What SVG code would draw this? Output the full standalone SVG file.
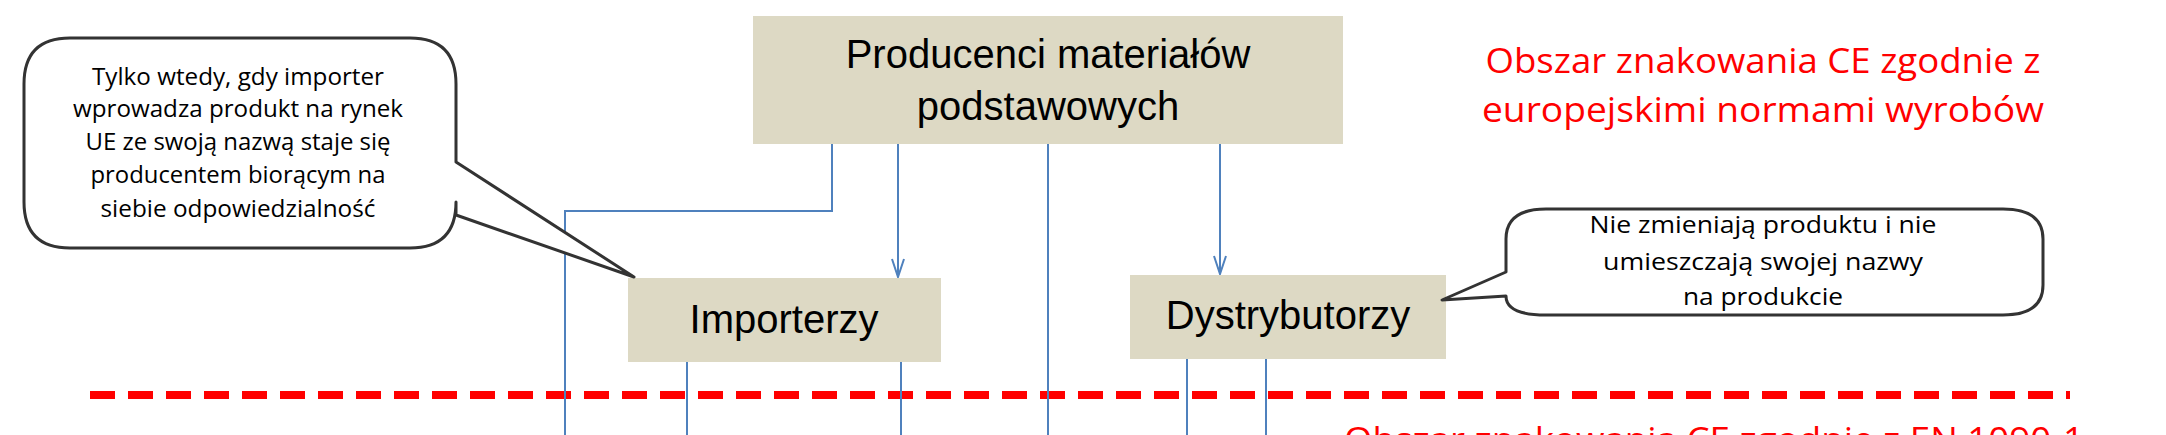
<svg xmlns="http://www.w3.org/2000/svg" width="2166" height="435" viewBox="0 0 2166 435">
<style>
.box{fill:#ddd9c4}
.bt{font-family:"Liberation Sans",Arial,sans-serif;font-size:40px;fill:#000;text-anchor:middle}
.ct{font-family:"Open Sans","Liberation Sans",sans-serif;font-size:23px;fill:#000;text-anchor:middle}
.rt{font-family:"Open Sans","Liberation Sans",sans-serif;font-size:34px;fill:#ff0000;text-anchor:middle}
.con{fill:none;stroke:#4f81bd;stroke-width:2}
.call{fill:#fff;stroke:#333;stroke-width:3;stroke-linejoin:round}
</style>
<defs>
<marker id="arr" markerWidth="20" markerHeight="14" refX="19" refY="7" orient="auto" markerUnits="userSpaceOnUse" viewBox="0 0 20 14">
<path d="M1,1 L19,7 L1,13" fill="none" stroke="#4f81bd" stroke-width="2"/>
</marker>
</defs>
<rect width="2166" height="435" fill="#fff"/>
<line x1="90" y1="395" x2="2070" y2="395" stroke="#ff0000" stroke-width="8" stroke-dasharray="25 13"/>
<g id="connectors">
<path class="con" d="M832,144 V211 H565 V435"/>
<path class="con" d="M898,144 V277" marker-end="url(#arr)"/>
<path class="con" d="M1048,144 V435"/>
<path class="con" d="M1220,144 V274" marker-end="url(#arr)"/>
<path class="con" d="M687,362 V435"/>
<path class="con" d="M901,362 V435"/>
<path class="con" d="M1187,359 V435"/>
<path class="con" d="M1266,359 V435"/>
</g>
<g id="producenci">
<rect class="box" x="753" y="16" width="590" height="128"/>
<text class="bt" x="1048" y="68">Producenci materiałów</text>
<text class="bt" x="1048" y="120">podstawowych</text>
</g>
<g id="importerzy">
<rect class="box" x="628" y="278" width="313" height="84"/>
<text class="bt" x="784" y="333">Importerzy</text>
</g>
<g id="dystrybutorzy">
<rect class="box" x="1130" y="275" width="316" height="84"/>
<text class="bt" x="1288" y="329">Dystrybutorzy</text>
</g>
<g id="callout-left">
<path class="call" d="M70,38 H410 Q456,38 456,84 V162 L634,277 L456,215 V202 Q456,248 410,248 H70 Q24,248 24,202 V84 Q24,38 70,38 Z"/>
<text class="ct" x="238" y="85" textLength="292" lengthAdjust="spacingAndGlyphs">Tylko wtedy, gdy importer</text>
<text class="ct" x="238" y="117" textLength="330" lengthAdjust="spacingAndGlyphs">wprowadza produkt na rynek</text>
<text class="ct" x="238" y="150" textLength="305" lengthAdjust="spacingAndGlyphs">UE ze swoją nazwą staje się</text>
<text class="ct" x="238" y="183" textLength="295" lengthAdjust="spacingAndGlyphs">producentem biorącym na</text>
<text class="ct" x="238" y="217" textLength="275" lengthAdjust="spacingAndGlyphs">siebie odpowiedzialność</text>
</g>
<g id="callout-right">
<path class="call" d="M1546,209 H2003 Q2043,209 2043,239 V285 Q2043,315 2003,315 H1546 Q1506,315 1506,296 L1442,300 L1506,272 V239 Q1506,209 1546,209 Z"/>
<text class="ct" x="1763" y="233" textLength="347" lengthAdjust="spacingAndGlyphs">Nie zmieniają produktu i nie</text>
<text class="ct" x="1763" y="270" textLength="320" lengthAdjust="spacingAndGlyphs">umieszczają swojej nazwy</text>
<text class="ct" x="1763" y="305" textLength="160" lengthAdjust="spacingAndGlyphs">na produkcie</text>
</g>
<g id="labels">
<text class="rt" x="1763" y="73" textLength="555" lengthAdjust="spacingAndGlyphs">Obszar znakowania CE zgodnie z</text>
<text class="rt" x="1763" y="122" textLength="562" lengthAdjust="spacingAndGlyphs">europejskimi normami wyrobów</text>
<text class="rt" x="1714" y="452" textLength="740" lengthAdjust="spacingAndGlyphs">Obszar znakowania CE zgodnie z EN 1090-1</text>
</g>
</svg>
